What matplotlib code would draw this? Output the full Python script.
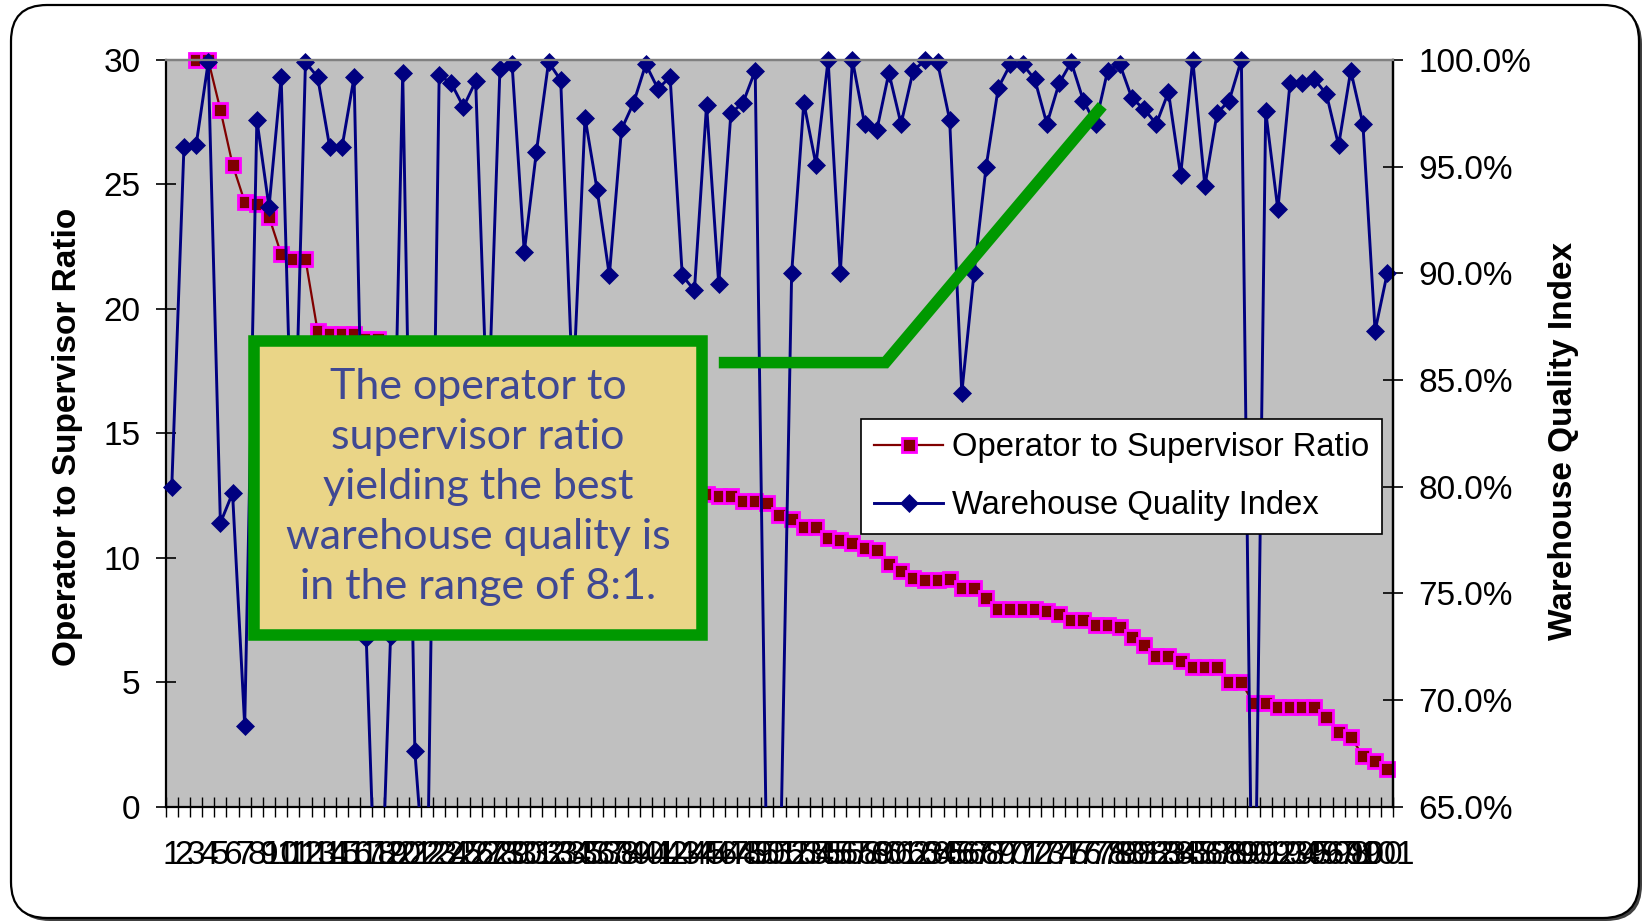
# libraries ----------------------
import numpy as np
import matplotlib
matplotlib.use("Agg")
import matplotlib.pyplot as plt
from matplotlib.lines import Line2D
from matplotlib.patches import Rectangle, FancyBboxPatch
from matplotlib.transforms import IdentityTransform
from matplotlib.ticker import PercentFormatter

plt.rcParams['font.family'] = 'Liberation Sans'

# data ---------------------------
sites = np.arange(1, 102)

ratio = [
    np.nan, np.nan, 30.0, 30.0, 28.0, 25.8, 24.3, 24.2, 23.7, 22.2,
    22.0, 22.0, 19.1, 19.0, 19.0, 19.0, 18.8, 18.8, 18.5, 18.2,
    18.0, 17.6, 17.3, 17.0, 16.7, 16.5, 16.2, 16.0, 15.7, 15.4,
    15.2, 15.0, 14.7, 14.4, 14.2, 14.0, 13.8, 13.6, 13.4, 13.3,
    13.1, 13.0, 12.8, 12.7, 12.55, 12.5, 12.5, 12.3, 12.3, 12.2,
    11.7, 11.55, 11.25, 11.25, 10.8, 10.7, 10.6, 10.4, 10.3, 9.75,
    9.45, 9.2, 9.1, 9.1, 9.15, 8.8, 8.8, 8.4, 7.95, 7.95,
    7.95, 7.95, 7.85, 7.75, 7.5, 7.5, 7.3, 7.3, 7.2, 6.8,
    6.5, 6.05, 6.05, 5.85, 5.6, 5.6, 5.6, 5.0, 5.0, 4.15,
    4.15, 4.0, 4.0, 4.0, 4.0, 3.6, 3.0, 2.8, 2.05, 1.85,
    1.5,
]

quality = [
    80.0, 95.9, 96.0, 99.9, 78.3, 79.7, 68.8, 97.2, 93.1, 99.2,
    79.0, 99.9, 99.2, 95.9, 95.9, 99.2, 72.9, 56.0, 73.0, 99.4,
    67.6, 60.0, 99.3, 98.9, 97.8, 99.0, 82.7, 99.6, 99.8, 91.0,
    95.7, 99.9, 99.05, 84.3, 97.3, 93.9, 89.9, 96.75, 98.0, 99.8,
    98.65, 99.2, 89.9, 89.2, 97.9, 89.5, 97.5, 98.0, 99.5, 60.0,
    60.0, 90.0, 98.0, 95.1, 100.0, 90.0, 100.0, 97.0, 96.7, 99.4,
    97.0, 99.5, 100.0, 99.9, 97.2, 84.4, 90.0, 95.0, 98.7, 99.8,
    99.8, 99.1, 97.0, 98.9, 99.9, 98.1, 97.0, 99.5, 99.8, 98.2,
    97.7, 97.0, 98.5, 94.6, 100.0, 94.1, 97.5, 98.1, 100.0, 54.0,
    97.6, 93.0, 98.9, 98.9, 99.1, 98.4, 96.0, 99.5, 97.0, 87.3,
    90.0,
]

ratio_ticks = np.arange(0, 31, 5)
quality_ticks = np.arange(65, 101, 5)

note = ("The operator to\nsupervisor ratio\nyielding the best\n"
        "warehouse quality is\nin the range of 8:1.")

# styles -------------------------
RED = '#800000'
PINK = '#FF00FF'
NAVY = '#000080'
GREEN = '#009900'

ratio_style = dict(color=RED, lw=1.6, marker='s', ms=10.5, mfc=RED, mec=PINK, mew=2)
quality_style = dict(color=NAVY, lw=2.1, marker='D', ms=8.8, mfc=NAVY, mec=NAVY, mew=0.5)

# figure -------------------------
fig = plt.figure(figsize=(16.43, 9.21), dpi=100)
fig.patch.set_facecolor('white')

# rounded outer frame with a small shadow
shadow = FancyBboxPatch((14, 0), 1628, 913, boxstyle='round,pad=0,rounding_size=36',
                        transform=IdentityTransform(), facecolor='#404040',
                        edgecolor='none', zorder=-2)
frame = FancyBboxPatch((11, 3), 1628, 913, boxstyle='round,pad=0,rounding_size=36',
                       transform=IdentityTransform(), facecolor='white',
                       edgecolor='black', lw=1.6, zorder=-1)
fig.add_artist(shadow)
fig.add_artist(frame)

ax1 = fig.add_axes([0.10085, 0.1241, 0.74717, 0.81075])
ax1.set_facecolor('#C0C0C0')
ax2 = ax1.twinx()

# ratio on the left axis
ax1.plot(sites, ratio, clip_on=False, **ratio_style)
ax1.set_xlim(0.5, 101.5)
ax1.set_ylim(0, 30)
ax1.set_yticks(ratio_ticks)

# quality on the right axis: line clipped, markers drawn only in range
q = np.array(quality)
ax2.plot(sites, q, color=NAVY, lw=2.1, clip_on=True)
ax2.plot(sites, np.where(q >= 65, q, np.nan), ls='none', marker='D', ms=8.8,
         mfc=NAVY, mec=NAVY, mew=0.5, clip_on=False)
ax2.set_ylim(65, 100)
ax2.set_yticks(quality_ticks)
ax2.yaxis.set_major_formatter(PercentFormatter(decimals=1))

# axes and ticks
ax1.set_xticks(sites)
ax1.set_xticklabels([str(s) for s in sites])
ax1.set_xticks(np.arange(0.5, 102, 1), minor=True)
ax1.tick_params(axis='x', which='major', length=0, labelsize=24, pad=24)
ax1.tick_params(axis='x', which='minor', direction='inout', length=14.4, width=1)
ax1.tick_params(axis='y', direction='inout', length=14.4, width=1.2, labelsize=24, pad=11)
ax2.tick_params(axis='y', direction='inout', length=14.4, width=1.2, labelsize=24, pad=11)

for ax in (ax1, ax2):
    ax.spines['top'].set_color('#808080')
    for s in ('top', 'left', 'right', 'bottom'):
        ax.spines[s].set_linewidth(1.6)
ax2.spines['left'].set_visible(False)
ax2.spines['bottom'].set_visible(False)

ax1.set_ylabel('Operator to Supervisor Ratio', fontsize=24, fontweight='bold', va='center')
ax1.yaxis.set_label_coords(-0.0796, 0.495)
ax2.set_ylabel('Warehouse Quality Index', fontsize=24, fontweight='bold', va='center')
ax2.yaxis.set_label_coords(1.139, 0.49)

# legend -------------------------
handles = [Line2D([], [], **ratio_style), Line2D([], [], **quality_style)]
labels = ['Operator to Supervisor Ratio', 'Warehouse Quality Index']
leg = fig.legend(handles, labels, loc='upper left', bbox_to_anchor=(861 / 1643, 1 - 419 / 921),
                 bbox_transform=fig.transFigure, borderaxespad=0, fontsize=23.6,
                 fancybox=False, framealpha=1, edgecolor='black', borderpad=0.4,
                 handlelength=2.1, handletextpad=0.28, labelspacing=0.82)
leg.get_frame().set_linewidth(1.2)

# callout box and connector ------
box = Rectangle((254 / 1643, 1 - 635.3 / 921), 448 / 1643, 294.6 / 921,
                transform=fig.transFigure, facecolor='#EAD587', edgecolor=GREEN,
                lw=8.3, joinstyle='miter', zorder=1)
fig.add_artist(box)
fig.text(478 / 1643, 1 - 487 / 921, note, ha='center', va='center', fontsize=31,
         color='#3F4893', family='Lato', linespacing=1.38, zorder=3)

connector = Line2D([718.8 / 1643, 885.4 / 1643, 1102.3 / 1643],
                   [1 - 362.6 / 921, 1 - 362.6 / 921, 1 - 105.8 / 921],
                   transform=fig.transFigure, color=GREEN, lw=8.3,
                   solid_capstyle='butt', solid_joinstyle='miter', zorder=2)
fig.add_artist(connector)

fig.savefig('out.png', dpi=100)
